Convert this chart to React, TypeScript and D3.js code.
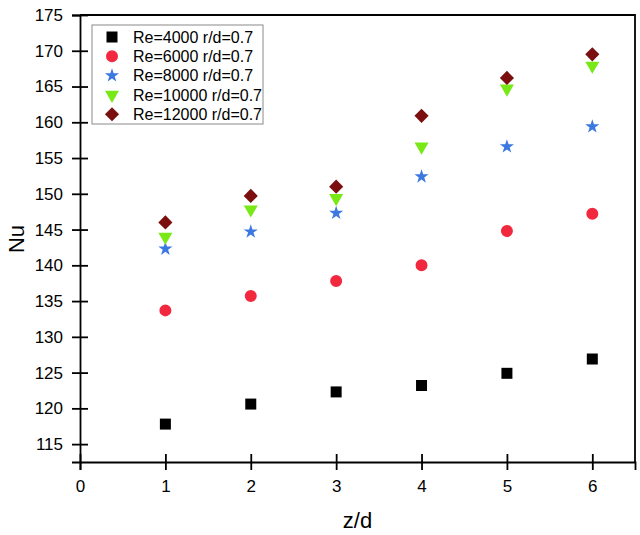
import React, { useEffect, useRef } from "react";
import * as d3 from "d3";

const zdValues = [1, 2, 3, 4, 5, 6];
const re4000 = [117.8, 120.6, 122.3, 123.2, 124.9, 126.9];
const re6000 = [133.7, 135.7, 137.8, 140.0, 144.8, 147.2];
const re8000 = [142.3, 144.7, 147.3, 152.4, 156.6, 159.4];
const re10000 = [144.0, 147.8, 149.4, 156.6, 164.7, 167.9];
const re12000 = [146.0, 149.7, 151.0, 160.9, 166.2, 169.5];

const seriesNames = [
  "Re=4000 r/d=0.7",
  "Re=6000 r/d=0.7",
  "Re=8000 r/d=0.7",
  "Re=10000 r/d=0.7",
  "Re=12000 r/d=0.7",
];
const xTicks = [0, 1, 2, 3, 4, 5, 6];
const yTicks = [115, 120, 125, 130, 135, 140, 145, 150, 155, 160, 165, 170, 175];

const FONT = "'Liberation Sans', Arial, sans-serif";

type Marker = { type: d3.SymbolType; size: number; rotate: number; color: string };

const markers: Marker[] = [
  { type: d3.symbolSquare, size: 121, rotate: 0, color: "#000000" },
  { type: d3.symbolCircle, size: 113, rotate: 0, color: "#f2283e" },
  { type: d3.symbolStar, size: 62, rotate: 0, color: "#3b78e0" },
  { type: d3.symbolTriangle, size: 85, rotate: 180, color: "#78e816" },
  { type: d3.symbolSquare, size: 100, rotate: 45, color: "#7b0f0f" },
];

const App: React.FC = () => {
  const ref = useRef<SVGSVGElement | null>(null);

  useEffect(() => {
    const svg = d3.select(ref.current);
    svg.selectAll("*").remove();

    const margin = { top: 15, right: 5, bottom: 73, left: 80 };
    const W = 640;
    const H = 535;
    const width = W - margin.left - margin.right;
    const height = H - margin.top - margin.bottom;

    const series = [re4000, re6000, re8000, re10000, re12000];

    const x = d3.scaleLinear().domain([0, 6.5]).range([0, width]);
    const y = d3.scaleLinear().domain([112.5, 175]).range([height, 0]);

    const g = svg
      .append("g")
      .attr("transform", `translate(${margin.left},${margin.top})`);

    // frame (top + right)
    g.append("path")
      .attr("d", `M0,0H${width}V${height}`)
      .attr("fill", "none")
      .attr("stroke", "#000")
      .attr("stroke-width", 1.8);

    // X axis
    const xAxis = g
      .append("g")
      .attr("transform", `translate(0,${height})`)
      .call(
        d3
          .axisBottom(x)
          .tickValues(xTicks)
          .tickFormat(d3.format("d"))
          .tickSizeOuter(0)
          .tickSize(8)
          .tickPadding(10)
      );
    xAxis.selectAll(".tick line").attr("y1", -8).attr("y2", 8);

    // Y axis
    const yAxis = g.append("g").call(
      d3
        .axisLeft(y)
        .tickValues(yTicks)
        .tickFormat(d3.format("d"))
        .tickSizeOuter(0)
        .tickSize(8)
        .tickPadding(9)
    );
    yAxis.selectAll(".tick line").attr("x1", -8).attr("x2", 8);

    [xAxis, yAxis].forEach((ax) => {
      ax.select(".domain").attr("stroke-width", 1.8);
      ax.selectAll(".tick line").attr("stroke-width", 1.8);
      ax.selectAll("text")
        .style("font-family", FONT)
        .style("font-size", "17px")
        .attr("fill", "#000");
    });

    // Axis titles
    svg
      .append("text")
      .attr("x", margin.left + width / 2)
      .attr("y", 528)
      .attr("text-anchor", "middle")
      .style("font-family", FONT)
      .style("font-size", "22px")
      .text("z/d");

    svg
      .append("text")
      .attr("transform", `translate(24,${239}) rotate(-90)`)
      .attr("text-anchor", "middle")
      .style("font-family", FONT)
      .style("font-size", "22px")
      .text("Nu");

    // Points
    series.forEach((vals, i) => {
      const m = markers[i];
      const sym = d3.symbol().type(m.type).size(m.size);
      g.append("g")
        .selectAll("path")
        .data(vals.map((v, j) => ({ x: zdValues[j], v })))
        .join("path")
        .attr("d", sym()!)
        .attr(
          "transform",
          (d) => `translate(${x(d.x)},${y(d.v)}) rotate(${m.rotate})`
        )
        .attr("fill", m.color);
    });

    // Legend
    const legend = svg.append("g").attr("transform", "translate(92,25)");
    legend
      .append("rect")
      .attr("width", 171)
      .attr("height", 99)
      .attr("fill", "#fff")
      .attr("stroke", "#8a8a8a")
      .attr("stroke-width", 1);

    seriesNames.forEach((name, i) => {
      const m = markers[i];
      const row = legend
        .append("g")
        .attr("transform", `translate(0,${12 + i * 19.3})`);
      row
        .append("path")
        .attr("d", d3.symbol().type(m.type).size(m.size)()!)
        .attr("transform", `translate(20,0) rotate(${m.rotate})`)
        .attr("fill", m.color);
      row
        .append("text")
        .attr("x", 41)
        .attr("y", 0)
        .attr("dy", "0.36em")
        .style("font-family", FONT)
        .style("font-size", "16px")
        .text(name);
    });
  }, []);

  return (
    <svg
      ref={ref}
      width={640}
      height={535}
      style={{ position: "absolute", left: 0, top: 0, background: "#fff" }}
    />
  );
};

export default App;
